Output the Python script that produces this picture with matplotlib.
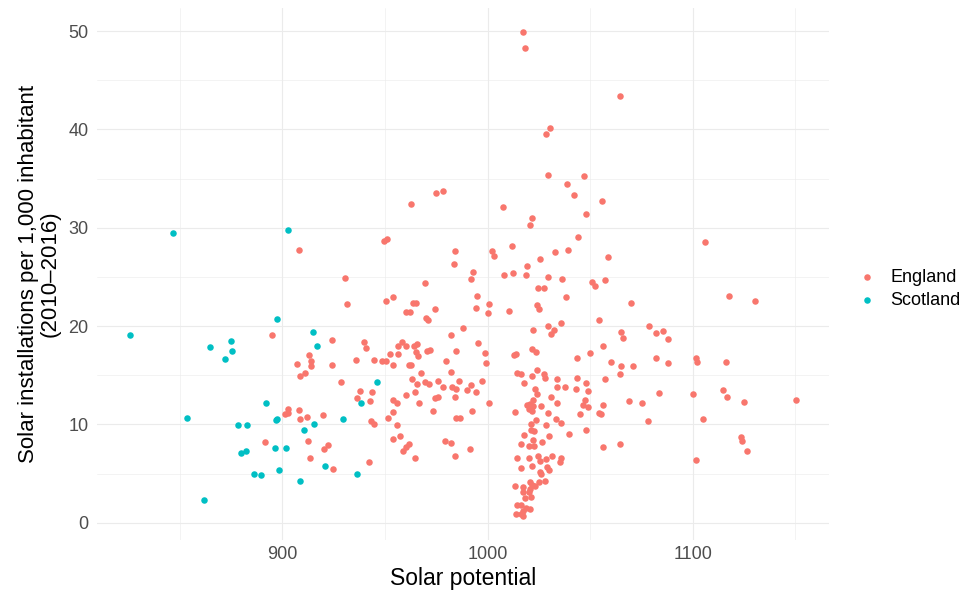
import matplotlib
matplotlib.use("Agg")
import matplotlib.pyplot as plt
from matplotlib.ticker import MultipleLocator

plt.rcParams['font.family'] = ['Liberation Sans', 'DejaVu Sans']

# England: solar potential (x) and installations per 1,000 inhabitants (y)
england_x = [
    1017.3, 1018.1, 1030.6, 1028.3, 1029.7, 1038.8, 1047.1, 1064.7,
    1042.2, 1048.1, 975.0, 978.1, 962.7, 1007.4, 1021.7, 1020.8, 1044.3, 949.6, 951.0,
    984.1, 983.6, 1002.4, 1003.0, 1012.1, 1025.7, 1032.8, 1039.0, 1019.0, 1007.9, 1012.2,
    1018.9, 993.1, 992.0, 930.5, 1029.3, 1036.2, 969.3, 1024.7, 1027.6, 994.9, 1038.3,
    931.6, 950.4, 953.9, 963.7, 965.0, 960.1, 962.4, 974.5, 994.5, 1000.8, 1000.4, 1010.5,
    1024.1, 1024.9, 970.2, 970.9, 988.1, 1022.0, 1029.6, 1032.5, 1031.0, 1035.9, 982.1,
    995.6, 939.7, 941.0, 956.4, 958.2, 960.3, 964.1, 965.6, 965.1, 966.1, 970.7, 971.9,
    984.5, 998.6, 952.3, 956.6, 935.7, 944.6, 948.8, 950.7, 979.7, 1012.7, 1014.0, 1021.8,
    1023.8, 1043.7, 1050.1,
    1056.0, 1106.0, 1058.9, 1050.8, 1052.6, 1057.4, 1117.7, 1130.3, 1070.1, 1054.5, 1078.8,
    1064.9, 1065.9, 1082.2, 1085.3, 1087.8, 1056.5, 1082.2, 1101.4,
    1060.2, 1065.2, 1070.7, 1064.6, 1088.0, 1102.3, 1116.4, 1048.2, 1049.0, 1057.3, 1047.6,
    1046.5, 1049.2, 1045.1, 1056.5, 1054.4, 1055.5, 1068.8, 1075.3, 1083.5, 1078.3, 1099.9,
    1105.1, 1115.0, 1116.9, 1124.8, 1150.2, 1047.9, 1056.2, 1064.6, 1123.7, 1124.0, 1126.6,
    1101.8,
    908.3, 895.0, 924.3, 913.1, 913.8,
    914.1, 907.1, 924.3, 908.5, 911.0, 928.5, 902.8, 901.3, 902.8, 908.2, 912.0, 908.5,
    919.9, 891.6, 912.5, 922.2, 920.3, 913.3, 924.8,
    954.1, 961.7, 962.9, 999.1, 967.4, 982.3, 937.8, 943.7, 936.6, 942.6, 943.1, 944.9,
    942.3, 963.4, 965.5, 964.8, 969.5, 971.6, 975.7, 978.4, 982.5, 984.4, 985.9, 984.3,
    990.1, 992.0, 994.3, 997.5, 1000.6, 960.1, 954.1, 955.7, 966.8, 974.2, 975.7, 953.9,
    951.4, 973.6, 992.5, 955.7, 957.5, 954.1, 961.7, 960.4, 959.0, 964.5, 984.5, 986.5,
    979.1, 982.0, 984.1, 991.5,
    1013.6, 1014.5, 1016.3, 1017.6, 1021.8, 1023.9, 1027.5, 1027.8, 1033.8, 1034.1, 1037.9,
    1043.5, 1043.3, 1022.9, 1024.1, 1022.3, 1030.7, 1034.1, 1019.0, 1020.8, 1022.0, 1020.2,
    1021.7, 1026.2, 1029.4, 1033.5, 1035.6, 1023.8, 1021.2, 1028.6, 1021.3, 1022.8, 1017.9,
    1030.1, 1039.8, 1022.2, 1026.5, 1016.5, 1020.2, 1022.5, 1014.2, 1020.2, 1024.6, 1025.4,
    1031.4, 1028.5, 1035.6, 1035.1, 1016.1, 1021.7, 1029.0, 1030.0, 1025.9, 1025.4, 1013.2,
    1017.1, 1017.3, 1020.5, 1021.7, 1020.8, 1020.0, 1022.9, 1025.2, 1028.1, 1018.4, 1021.2,
    1014.4, 1016.5, 1018.9, 1020.8, 1017.1, 1014.0, 1017.3, 1016.3,
]
england_y = [
    49.9, 48.3, 40.2, 39.5, 35.4, 34.5, 35.3, 43.4,
    33.3, 31.4, 33.5, 33.7, 32.4, 32.1, 31.0, 30.3, 29.1, 28.7, 28.9,
    27.6, 26.3, 27.6, 27.1, 28.1, 26.8, 27.5, 27.7, 26.1, 25.2, 25.4,
    25.2, 25.5, 24.8, 24.9, 25.0, 24.8, 24.4, 23.9, 23.9, 23.1, 23.0,
    22.2, 22.6, 23.0, 22.4, 22.3, 21.4, 21.4, 21.7, 21.8, 22.2, 21.3, 21.5,
    22.1, 21.7, 20.8, 20.6, 19.8, 19.6, 20.0, 19.6, 19.2, 20.3, 19.1,
    18.3, 18.4, 17.8, 18.0, 18.4, 18.0, 18.0, 18.2, 17.4, 17.0, 17.5, 17.6,
    17.5, 17.3, 17.2, 17.2, 16.6, 16.6, 16.4, 16.4, 16.4, 17.1, 17.2, 17.7,
    17.4, 16.8, 17.3,
    32.7, 28.6, 27.0, 24.5, 24.1, 24.7, 23.1, 22.6, 22.3, 20.6, 20.0,
    19.4, 18.8, 19.3, 19.5, 18.7, 18.0, 16.8, 16.8,
    16.3, 15.9, 15.9, 15.1, 16.2, 16.3, 16.3, 14.2, 13.4, 14.6, 12.5,
    12.0, 11.8, 11.1, 12.0, 11.2, 11.1, 12.4, 12.2, 13.2, 10.3, 13.1,
    10.6, 13.5, 12.8, 12.3, 12.5, 9.4, 7.7, 8.0, 8.7, 8.3, 7.3,
    6.4,
    27.7, 19.1, 18.6, 17.1, 16.5,
    15.9, 16.1, 16.0, 14.9, 15.2, 14.3, 11.6, 11.1, 11.2, 11.5, 10.8, 10.5,
    11.0, 8.2, 8.3, 7.9, 7.5, 6.6, 5.5,
    16.0, 16.0, 16.0, 16.2, 15.2, 15.3, 13.4, 13.3, 12.7, 12.4, 10.3, 10.0,
    6.2, 14.6, 14.1, 13.3, 14.3, 14.1, 14.4, 13.8, 13.8, 13.6, 14.4, 12.8,
    13.5, 14.0, 13.3, 14.4, 12.2, 13.0, 12.5, 12.2, 12.2, 12.7, 12.8, 11.3,
    10.7, 11.4, 11.4, 9.9, 8.8, 8.5, 8.0, 7.7, 7.3, 6.6, 10.7, 10.7,
    8.3, 8.1, 6.8, 7.5,
    11.3, 15.2, 15.1, 14.2, 14.9, 15.5, 15.1, 14.7, 14.6, 13.8, 13.8,
    14.7, 13.6, 13.6, 13.1, 12.5, 12.8, 12.2, 12.0, 12.1, 11.9, 11.6,
    11.4, 11.9, 11.2, 10.6, 10.1, 10.4, 10.0, 9.9, 9.4, 9.3, 8.9,
    8.8, 9.0, 8.4, 8.2, 8.0, 7.8, 7.8, 6.6, 6.6, 6.8, 6.3,
    6.8, 6.5, 6.6, 6.2, 5.6, 5.8, 5.7, 5.4, 5.0, 5.2, 3.7,
    3.6, 3.1, 4.1, 3.8, 3.4, 3.1, 3.7, 4.1, 4.2, 2.5, 2.6,
    1.8, 1.8, 1.5, 1.4, 1.2, 0.9, 0.7, 0.9,
]

# Scotland
scotland_x = [
    825.9, 846.7, 902.8, 897.4, 875.2, 864.7, 875.7, 872.2, 915.1, 917.0, 892.1,
    853.4, 878.5, 882.7, 897.3, 896.8, 929.5, 915.3, 910.5, 896.6, 901.8, 879.9,
    882.5, 898.5, 886.1, 889.8, 920.9, 908.5, 862.0, 946.2, 938.4, 936.3,
]
scotland_y = [
    19.1, 29.5, 29.8, 20.7, 18.5, 17.9, 17.5, 16.7, 19.4, 18.0, 12.2,
    10.7, 9.9, 9.9, 10.6, 10.4, 10.6, 10.0, 9.4, 7.55, 7.55, 7.07,
    7.3, 5.4, 5.0, 4.9, 5.8, 4.25, 2.3, 14.3, 12.2, 5.0,
]

region_labels = ["England", "Scotland"]
region_colors = ["#F8766D", "#00BFC4"]
x_ticks = [900, 1000, 1100]
y_ticks = [0, 10, 20, 30, 40, 50]

fig = plt.figure(figsize=(9.74, 5.97), dpi=100)
ax = fig.add_axes([97/974, 1 - 540/597, (829-97)/974, (540-8)/597])

ax.scatter(england_x, england_y, s=22, color=region_colors[0], linewidths=0,
           label=region_labels[0], zorder=3)
ax.scatter(scotland_x, scotland_y, s=22, color=region_colors[1], linewidths=0,
           label=region_labels[1], zorder=3)

all_x = england_x + scotland_x
all_y = england_y + scotland_y
xr = max(all_x) - min(all_x)
yr = max(all_y) - min(all_y)
ax.set_xlim(min(all_x) - 0.05 * xr, max(all_x) + 0.05 * xr)
ax.set_ylim(min(all_y) - 0.05 * yr, max(all_y) + 0.05 * yr)

ax.set_xticks(x_ticks)
ax.set_yticks(y_ticks)
ax.xaxis.set_minor_locator(MultipleLocator(50))
ax.yaxis.set_minor_locator(MultipleLocator(5))
ax.grid(which='major', color='#EBEBEB', linewidth=0.8)
ax.grid(which='minor', color='#EBEBEB', linewidth=0.4)
ax.set_axisbelow(True)
for s in ax.spines.values():
    s.set_visible(False)
ax.tick_params(which='both', length=0, colors='#4D4D4D', labelsize=13)
ax.tick_params(axis='x', pad=4)
ax.tick_params(axis='y', pad=6)

ax.set_xlabel("Solar potential", fontsize=16.5, color='black', labelpad=3)
ax.set_ylabel("Solar installations per 1,000 inhabitant\n(2010\u20132016)",
              fontsize=16, color='black', labelpad=6, linespacing=1.0)

leg = fig.legend(loc='center left', bbox_to_anchor=(858/974, 1 - 289/597),
                 frameon=False, fontsize=13, handletextpad=0.8,
                 handlelength=1.0, borderpad=0, labelspacing=0.35,
                 markerscale=1.0, borderaxespad=0)

fig.savefig("out.png", dpi=100, facecolor='white')
